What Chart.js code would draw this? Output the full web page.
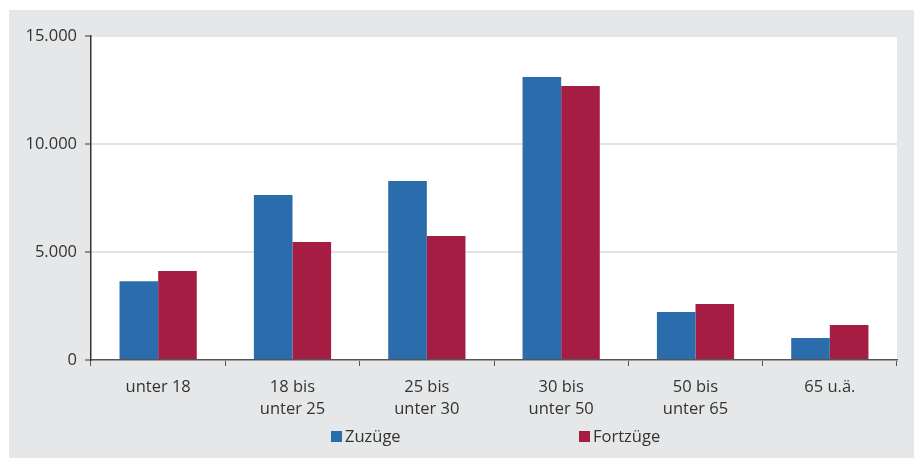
<!DOCTYPE html>
<html>
<head>
<meta charset="utf-8">
<script src="https://cdn.jsdelivr.net/npm/chart.js@4"></script>
<style>
  html, body { margin: 0; padding: 0; background: #fff; }
  #wrap { position: absolute; left: 9px; top: 10px; width: 905px; height: 448px; background: #e6e7e8; }
</style>
</head>
<body>
<div id="wrap"><canvas id="chart" width="905" height="448"></canvas></div>
<script>
const ageGroups = [["unter 18"], ["18 bis", "unter 25"], ["25 bis", "unter 30"], ["30 bis", "unter 50"], ["50 bis", "unter 65"], ["65 u.ä."]];
const zuzuege = [3650, 7640, 8290, 13100, 2220, 1020];
const fortzuege = [4120, 5460, 5740, 12690, 2590, 1620];
const yTicks = [0, 5000, 10000, 15000];

const fontFam = "'Open Sans', 'Noto Sans', sans-serif";
const textColor = "#333333";

function fmt(v) {
  return String(v).replace(/\B(?=(\d{3})+(?!\d))/g, ".");
}

// white plot area
const plotBg = {
  id: "plotBg",
  beforeDraw(chart) {
    const { ctx, chartArea: a } = chart;
    ctx.save();
    ctx.fillStyle = "#ffffff";
    ctx.fillRect(a.left, a.top, a.right - a.left, a.bottom - a.top);
    ctx.restore();
  }
};

// legend spread out under the plot, like the original
const spreadLegend = {
  id: "spreadLegend",
  afterDraw(chart) {
    const { ctx, chartArea: a } = chart;
    const offsets = [240, 488];
    ctx.save();
    ctx.font = "16.5px " + fontFam;
    ctx.textBaseline = "middle";
    chart.data.datasets.forEach((ds, i) => {
      const x = a.left + offsets[i];
      const y = 427;
      ctx.fillStyle = ds.backgroundColor;
      ctx.fillRect(x, y - 6, 11, 11);
      ctx.fillStyle = textColor;
      ctx.fillText(ds.label, x + 14, y);
    });
    ctx.restore();
  }
};

new Chart(document.getElementById("chart"), {
  type: "bar",
  data: {
    labels: ageGroups,
    datasets: [
      { label: "Zuzüge", data: zuzuege, backgroundColor: "#2b6cad" },
      { label: "Fortzüge", data: fortzuege, backgroundColor: "#a61d44" }
    ]
  },
  options: {
    responsive: false,
    animation: false,
    layout: { padding: { top: 26, right: 17, left: 0, bottom: 0 } },
    categoryPercentage: 0.575,
    barPercentage: 1,
    plugins: {
      legend: { display: false },
      tooltip: { enabled: false }
    },
    scales: {
      x: {
        offset: true,
        grid: { offset: true, drawOnChartArea: false, drawTicks: true, tickLength: 6, tickColor: "#555", tickWidth: 1 },
        border: { color: "#555", width: 1.5 },
        ticks: { color: textColor, font: { family: fontFam, size: 16.5, lineHeight: 1.35 }, padding: 10, maxRotation: 0 },
        afterFit(s) { s.height = 98; }
      },
      y: {
        min: 0,
        max: 15000,
        afterBuildTicks(s) { s.ticks = yTicks.map(v => ({ value: v })); },
        grid: { color: "#e4e4e4", lineWidth: 2, tickLength: 6, tickColor: "#333", tickWidth: 1 },
        border: { color: "#333", width: 1.5 },
        ticks: { color: textColor, font: { family: fontFam, size: 16.5 }, padding: 8, callback: v => fmt(v) },
        afterFit(s) { s.width = 82; }
      }
    }
  },
  plugins: [plotBg, spreadLegend]
});
</script>
</body>
</html>
